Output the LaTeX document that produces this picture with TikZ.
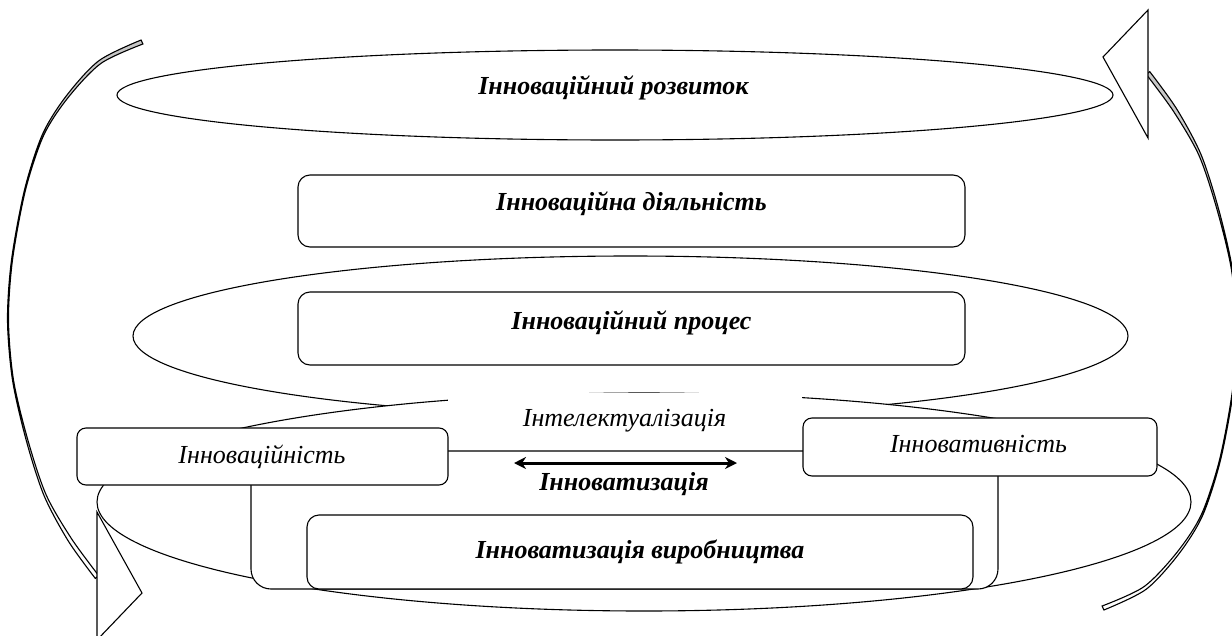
\documentclass[tikz,border=0pt]{standalone}
\usepackage{fontspec}
\setmainfont{Liberation Serif}
\usetikzlibrary{shapes.geometric,arrows.meta}
\newcommand{\myCurvedArrow}{%
  \shadedraw[top color=gray!45, bottom color=white, draw=black, line width=1.1pt]
    plot[smooth] coordinates {(141.1,40.0) (98.9,60.7) (66.0,96.3) (42.3,134.7) (24.5,189.9) (11.5,260) (7.5,320) (12.5,380.1) (26.2,440.2) (44.0,495.5) (68.4,541.2) (95.3,578.4)}
    -- plot[smooth] coordinates {(98.7,575.6) (71.6,538.8) (46.0,494.5) (27.8,439.8) (13.5,379.9) (8.5,320) (12.5,260) (25.5,190.1) (43.7,135.3) (68.0,97.7) (101.1,63.3) (142.9,44.0)}
    -- cycle;
  \draw[fill=white, line width=1.1pt] (97,512) -- (142,593) -- (97,640) -- cycle;
}
\begin{document}
\begin{tikzpicture}[x=1pt,y=-1pt,line width=1.1pt,
  rbox/.style={draw, fill=white, rounded corners=#1, inner sep=0pt},
  oval/.style={draw, ellipse, inner sep=0pt},
  rtxt/.style={anchor=base, inner sep=0pt, font=\fontsize{26}{30}\selectfont\itshape},
  btxt/.style={anchor=base, inner sep=0pt, font=\fontsize{26}{30}\selectfont\bfseries\itshape}]
\clip (0,0) rectangle (1232,635);
\fill[white] (0,0) rectangle (1232,635);
% curved arrows
\begin{scope}
  \myCurvedArrow
\end{scope}
\begin{scope}[rotate around={180:(622.5,325)}]
  \myCurvedArrow
\end{scope}
% top ellipse
\node[oval, fill=white, minimum width=996pt, minimum height=90pt] (rozv) at (615,95) {};
\node[btxt] (trozv) at (613.5,94) {Інноваційний розвиток};
% activity box
\node[rbox=12pt, minimum width=667pt, minimum height=72pt] (dial) at (631.5,211) {};
\node[btxt] (tdial) at (631.5,210) {Інноваційна діяльність};
% middle ellipse
\node[oval, fill=white, minimum width=995pt, minimum height=160pt] (proc) at (630.5,336) {};
\node[rbox=12pt, minimum width=667pt, minimum height=73pt] (procbox) at (631.5,328.5) {};
\node[btxt] (tproc) at (631.5,329) {Інноваційний процес};
% lower ellipse
\node[oval, fill=white, minimum width=1094pt, minimum height=218pt] (low) at (644,502) {};
% intellectualisation label
\node[fill=white, inner sep=0pt, minimum width=354pt, minimum height=50pt] (intel) at (624.5,418) {};
\node[rtxt] (tintel) at (624.5,426) {Інтелектуалізація};
% large frame
\node[rbox=20pt, minimum width=747pt, minimum height=138pt] (frame) at (624.5,520) {};
\node[rbox=12pt, minimum width=666pt, minimum height=74pt] (vyr) at (640,552) {};
\node[btxt] (tvyr) at (640,558) {Інноватизація виробництва};
% side boxes
\node[rbox=9pt, minimum width=371pt, minimum height=57pt] (lbox) at (262.5,456.5) {};
\node[rtxt] (tlbox) at (262,463) {Інноваційність};
\node[rbox=9pt, minimum width=354pt, minimum height=58pt] (rbox) at (980,447) {};
\node[rtxt] (trbox) at (978.5,452) {Інновативність};
% double arrow
\coordinate (aL) at (514,463);
\coordinate (aR) at (737,463);
\draw[line width=3pt, {Stealth[length=12pt,width=12pt]}-{Stealth[length=12pt,width=12pt]}] (aL) -- (aR);
\node[btxt] (tinnov) at (624,490) {Інноватизація};
\end{tikzpicture}
\end{document}
